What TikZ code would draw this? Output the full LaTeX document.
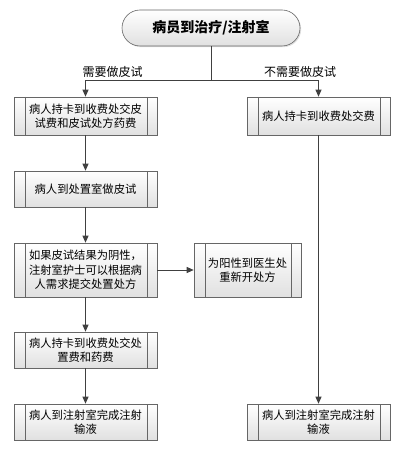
\documentclass[tikz,border=0pt]{standalone}
\usepackage{fontspec}
\setmainfont{Noto Sans CJK SC}
\usetikzlibrary{
    arrows.meta,
    positioning,
    shadows,
}

\tikzset{
    lineclr/.style={draw=black!75, line width=0.9pt},
    flow/.style={lineclr, -{Triangle[length=7pt,width=6pt]}},
    procbox/.style={
        draw=black!60, line width=0.6pt,
        minimum width=143pt, minimum height=36pt,
        align=center, inner sep=0pt,
        top color=white, bottom color=black!12,
        drop shadow={opacity=0.25, shadow xshift=1.2pt, shadow yshift=-1.2pt},
        font=\fontsize{11.3}{14.5}\selectfont,
        path picture={
            \draw[black!60, line width=0.6pt]
                ([xshift=11pt]path picture bounding box.north west) --
                ([xshift=11pt]path picture bounding box.south west)
                ([xshift=-10pt]path picture bounding box.north east) --
                ([xshift=-10pt]path picture bounding box.south east);
        },
    },
    startbox/.style={
        draw=black!60, line width=0.6pt,
        minimum width=178pt, minimum height=36pt,
        rounded corners=18pt, inner sep=0pt,
        top color=white, bottom color=black!12,
        drop shadow={opacity=0.25, shadow xshift=1.2pt, shadow yshift=-1.2pt},
        font=\fontsize{14}{16}\selectfont\bfseries,
    },
    branchlbl/.style={font=\fontsize{12}{14}\selectfont, inner sep=0pt},
}

\begin{document}
\begin{tikzpicture}[x=1pt, y=-1pt]
    \useasboundingbox (0,0) rectangle (403,457);

    % start
    \node[startbox] (start) at (211,28) {病员到治疗/注射室};
    \coordinate (split) at (211,80);

    % left column
    \node[procbox, minimum height=38pt] (card) at (85.5,116) {病人持卡到收费处交皮\\试费和皮试处方药费};
    \node[procbox] (test) at (85.5,189) {病人到处置室做皮试};
    \node[procbox, minimum height=54pt] (result) at (85.5,270) {如果皮试结果为阴性，\\注射室护士可以根据病\\人需求提交处置处方};
    \node[procbox] (pay) at (85.5,350) {病人持卡到收费处交处\\置费和药费};
    \node[procbox] (inject) at (85.5,422) {病人到注射室完成注射\\输液};

    % positive case
    \node[procbox, minimum width=107pt, minimum height=54pt] (redo) at (247.5,270) {为阳性到医生处\\重新开处方};

    % right column
    \node[procbox, minimum height=38pt] (cardB) at (318.5,116) {病人持卡到收费处交费};
    \node[procbox] (injectB) at (318.5,422) {病人到注射室完成注射\\输液};

    % branch labels
    \node[branchlbl] (need) at (112.5,72) {需要做皮试};
    \node[branchlbl] (noneed) at (300,72) {不需要做皮试};

    % connectors
    \draw[lineclr] (start) -- (split);
    \draw[flow] (split) -| (card);
    \draw[flow] (split) -| (cardB);
    \draw[flow] (card) -- (test);
    \draw[flow] (test) -- (result);
    \draw[flow] (result) -- (redo);
    \draw[flow] (result) -- (pay);
    \draw[flow] (pay) -- (inject);
    \draw[flow] (cardB) -- (injectB);
\end{tikzpicture}
\end{document}
